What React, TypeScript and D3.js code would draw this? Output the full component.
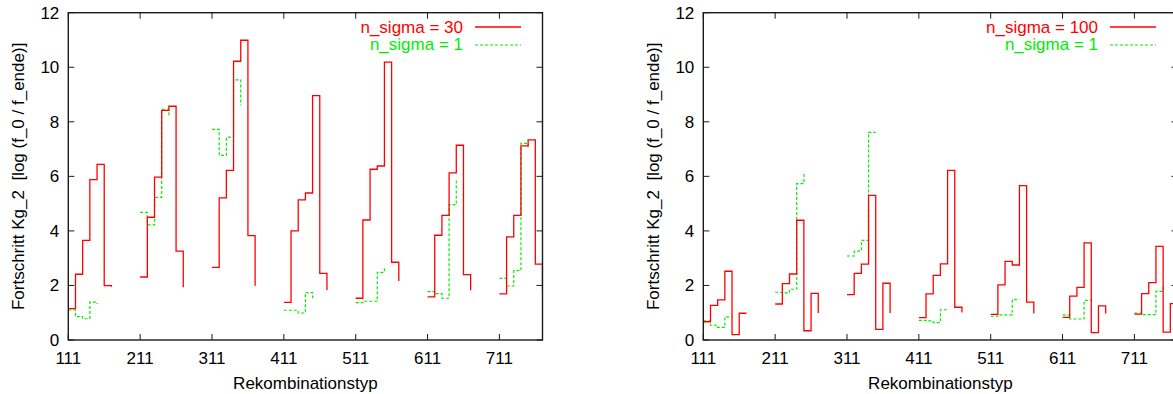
import React from "react";
import * as d3 from "d3";

// Recombination type groups (x positions of first member) and step within group
const groupStarts = [111, 211, 311, 411, 511, 611, 711];
const stepWidth = 10;
const xTicks = [111, 211, 311, 411, 511, 611, 711];
const yTicks = [0, 2, 4, 6, 8, 10, 12];

// Left panel: n_sigma = 30 (7 points per group)
const leftSigma30 = [
  [1.15, 2.41, 3.65, 5.88, 6.44, 1.99, 1.95],
  [2.31, 4.5, 5.97, 8.42, 8.57, 3.26, 1.93],
  [2.66, 5.21, 6.22, 10.22, 10.99, 3.83, 1.99],
  [1.38, 4.0, 5.14, 5.39, 8.96, 2.44, 1.83],
  [1.53, 4.4, 6.26, 6.38, 10.19, 2.85, 2.16],
  [1.58, 3.84, 4.57, 6.13, 7.14, 2.4, 1.82],
  [1.69, 3.78, 4.57, 7.12, 7.34, 2.78, 1.83],
];
// Left panel: n_sigma = 1 (5 points per group)
const leftSigma1 = [
  [1.1, 0.86, 0.78, 1.39, 1.32],
  [4.68, 4.22, 5.23, 8.46, 8.17],
  [7.72, 6.77, 7.44, 9.54, 8.6],
  [1.09, 1.09, 0.99, 1.74, 1.53],
  [1.37, 1.42, 1.42, 2.48, 2.65],
  [1.77, 1.7, 1.53, 4.96, 5.9],
  [2.26, 1.98, 2.54, 7.21, 7.04],
];
// Right panel: n_sigma = 100
const rightSigma100 = [
  [0.67, 1.27, 1.47, 2.52, 0.2, 0.98, 0.98],
  [1.32, 2.07, 2.42, 4.39, 0.34, 1.71, 0.99],
  [1.66, 2.44, 2.78, 5.3, 0.39, 2.08, 0.99],
  [0.82, 1.69, 2.37, 2.79, 6.22, 1.2, 1.01],
  [0.94, 2.02, 2.88, 2.75, 5.66, 1.39, 0.97],
  [0.83, 1.61, 1.93, 3.56, 0.27, 1.25, 0.97],
  [0.95, 1.7, 2.1, 3.43, 0.29, 1.33, 1.0],
];
// Right panel: n_sigma = 1
const rightSigma1 = [
  [0.7, 0.54, 0.46, 0.85, 0.85],
  [1.75, 1.73, 1.86, 5.73, 6.17],
  [3.08, 3.26, 3.65, 7.61, 7.61],
  [0.72, 0.7, 0.64, 1.11, 1.14],
  [0.87, 0.92, 0.92, 1.48, 1.48],
  [0.92, 0.77, 0.77, 1.45, 1.45],
  [0.99, 0.93, 0.93, 1.78, 1.98],
];

const leftLabels = ["n_sigma = 30", "n_sigma = 1"];
const rightLabels = ["n_sigma = 100", "n_sigma = 1"];

const FONT = "'Liberation Sans', Arial, Helvetica, sans-serif";
const FS = 17;
const RED = "#ff0000";
const GREEN = "#00ee00";

type PanelProps = {
  id: string;
  x0: number;
  x1: number;
  red: number[][];
  green: number[][];
  labels: string[];
  ylabelX: number;
};

function Panel({ id, x0, x1, red, green, labels, ylabelX }: PanelProps) {
  const top = 12.7;
  const bottom = 340;
  const x = d3.scaleLinear().domain([111, 771]).range([x0, x1]);
  const y = d3.scaleLinear().domain([0, 12]).range([bottom, top]);
  const line = d3
    .line<[number, number]>()
    .x((d) => x(d[0]))
    .y((d) => y(d[1]))
    .curve(d3.curveStepAfter);
  const toPts = (vals: number[], gi: number): [number, number][] =>
    vals.map((v, i) => [groupStarts[gi] + i * stepWidth, v]);
  const tickLen = 6;
  const axisColor = "#1a1a1a";
  const legX = x1 - 79.5;
  return (
    <g>
      <defs>
        <clipPath id={id}>
          <rect x={x0} y={top} width={x1 - x0} height={bottom - top} />
        </clipPath>
      </defs>
      {/* ticks */}
      {yTicks.map((t) => (
        <g key={"y" + t}>
          <line x1={x0} x2={x0 + tickLen} y1={y(t)} y2={y(t)} stroke={axisColor} strokeWidth={1} />
          <line x1={x1} x2={x1 - tickLen} y1={y(t)} y2={y(t)} stroke={axisColor} strokeWidth={1} />
          <text x={x0 - 9} y={y(t) + 5.8} textAnchor="end" fontFamily={FONT} fontSize={FS} fill="#000">
            {t}
          </text>
        </g>
      ))}
      {xTicks.map((t) => (
        <g key={"x" + t}>
          <line x1={x(t)} x2={x(t)} y1={bottom} y2={bottom - tickLen} stroke={axisColor} strokeWidth={1} />
          <line x1={x(t)} x2={x(t)} y1={top} y2={top + tickLen} stroke={axisColor} strokeWidth={1} />
          <text x={x(t)} y={364.3} textAnchor="middle" fontFamily={FONT} fontSize={FS} fill="#000">
            {t}
          </text>
        </g>
      ))}
      {/* data */}
      <g clipPath={`url(#${id})`}>
        {green.map((vals, gi) => (
          <path
            key={"g" + gi}
            d={line(toPts(vals, gi)) || ""}
            fill="none"
            stroke={GREEN}
            strokeWidth={1.2}
            strokeDasharray="3,2"
          />
        ))}
        {red.map((vals, gi) => (
          <path key={"r" + gi} d={line(toPts(vals, gi)) || ""} fill="none" stroke={RED} strokeWidth={1.3} />
        ))}
      </g>
      {/* border */}
      <rect x={x0} y={top} width={x1 - x0} height={bottom - top} fill="none" stroke={axisColor} strokeWidth={1.4} />
      {/* legend */}
      <text x={legX} y={32.5} textAnchor="end" fontFamily={FONT} fontSize={FS} fill={RED}>
        {labels[0]}
      </text>
      <line x1={x1 - 67.5} x2={x1 - 21.5} y1={27} y2={27} stroke={RED} strokeWidth={1.3} />
      <text x={legX} y={50.3} textAnchor="end" fontFamily={FONT} fontSize={FS} fill={GREEN}>
        {labels[1]}
      </text>
      <line x1={x1 - 67.5} x2={x1 - 21.5} y1={45} y2={45} stroke={GREEN} strokeWidth={1.2} strokeDasharray="3,2" />
      {/* axis labels */}
      <text
        x={(x0 + x1) / 2}
        y={389}
        textAnchor="middle"
        fontFamily={FONT}
        fontSize={FS}
        fill="#000"
      >
        Rekombinationstyp
      </text>
      <text
        transform={`translate(${ylabelX},${(top + bottom) / 2}) rotate(-90)`}
        textAnchor="middle"
        fontFamily={FONT}
        fontSize={FS}
        fill="#000"
        style={{ whiteSpace: "pre" }}
      >
        {"Fortschritt Kg_2  [log (f_0 / f_ende)]"}
      </text>
    </g>
  );
}

export default function App() {
  return (
    <svg
      width={1173}
      height={394}
      style={{ position: "absolute", left: 0, top: 0, display: "block", background: "#fff" }}
    >
      <rect x={0} y={0} width={1173} height={394} fill="#fff" />
      <Panel id="clipL" x0={68.3} x1={542.5} red={leftSigma30} green={leftSigma1} labels={leftLabels} ylabelX={23.5} />
      <Panel id="clipR" x0={703.3} x1={1177.5} red={rightSigma100} green={rightSigma1} labels={rightLabels} ylabelX={659} />
    </svg>
  );
}
